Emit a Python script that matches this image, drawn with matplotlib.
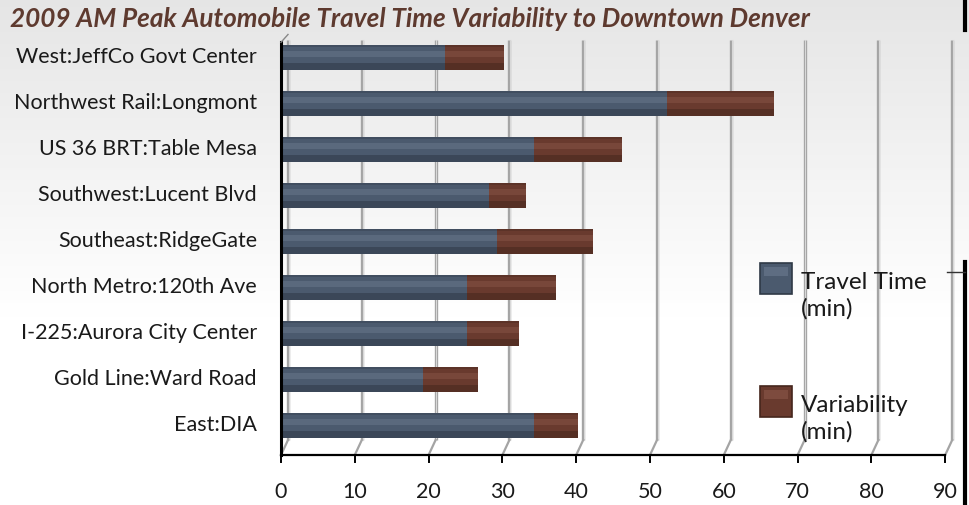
import matplotlib.pyplot as plt
import numpy as np
from matplotlib.patches import Rectangle
from matplotlib.lines import Line2D

# Corridor travel times (AM peak, minutes)
corridors = [
    "West:JeffCo Govt Center",
    "Northwest Rail:Longmont",
    "US 36 BRT:Table Mesa",
    "Southwest:Lucent Blvd",
    "Southeast:RidgeGate",
    "North Metro:120th Ave",
    "I-225:Aurora City Center",
    "Gold Line:Ward Road",
    "East:DIA",
]
travel_time = [22, 52, 34, 28, 29, 25, 25, 19, 34]
variability = [8, 14.5, 12, 5, 13, 12, 7, 7.5, 6]
x_ticks = [0, 10, 20, 30, 40, 50, 60, 70, 80, 90]

W, H = 969, 505
FONT = ["Lato", "DejaVu Sans"]

BLUE = ("#4b5a6e", "#5e6d82", "#2f3946")
BROWN = ("#693a2e", "#7d4b3e", "#46261d")


def px(x, y):
    """Pixel position -> figure fraction."""
    return x / W, 1 - y / H


def cylinder(ax, y, widths, left, colors, height):
    """Stacked barh with simple cylinder shading bands."""
    base, light, dark = colors
    ax.barh(y, widths, left=left, height=height, color=base, zorder=4)
    # dark lower rim
    ax.barh(y + height * 0.36, widths, left=left, height=height * 0.28,
            color=dark, alpha=0.55, zorder=5, linewidth=0)
    # highlight band
    ax.barh(y - height * 0.12, widths, left=left, height=height * 0.22,
            color=light, alpha=0.8, zorder=5, linewidth=0)
    # thin top edge
    ax.barh(y - height * 0.45, widths, left=left, height=height * 0.1,
            color=dark, alpha=0.35, zorder=5, linewidth=0)


fig = plt.figure(figsize=(W / 100, H / 100), dpi=100)

# soft grey wash fading to white
bg = fig.add_axes([0, 0, 1, 1], zorder=-10)
grad = np.clip(np.linspace(0.90, 1.06, 256), 0, 1)[:, None]
bg.imshow(np.dstack([grad, grad, grad]), aspect="auto", extent=[0, 1, 0, 1])
bg.set_axis_off()

# plot area: x 0..90 -> px 281..945, rows centred at 57 + 46*i
x0, x1 = 281, 281 + 90 * 7.38
y_top, y_bot = 40, 455
ax = fig.add_axes([x0 / W, 1 - y_bot / H, (x1 - x0) / W, (y_bot - y_top) / H])
ax.set_xlim(0, 90)
ax.set_ylim((y_bot - 57) / 46, (y_top - 57) / 46)
ax.patch.set_visible(False)
for sp in ax.spines.values():
    sp.set_visible(False)
ax.set_xticks([])
ax.set_yticks([])

# back-wall gridlines with slanted floor feet
depth = 7 / 7.38
y_wall_top = (y_top - 57) / 46
y_wall_bot = (440 - 57) / 46
y_front = (y_bot - 57) / 46
for v in x_ticks:
    ax.plot([v + depth, v + depth], [y_wall_top, y_wall_bot], color="#a4a4a4",
            lw=2.4, zorder=1, solid_capstyle="butt", clip_on=False)
    ax.plot([v + depth + 0.1, v + depth + 0.1], [y_wall_top, y_wall_bot], color="#d8d8d8",
            lw=0.8, zorder=1, clip_on=False)
    ax.plot([v + depth, v], [y_wall_bot, y_front], color="#a4a4a4", lw=1.6,
            zorder=1, clip_on=False)

ypos = np.arange(len(corridors))
bar_h = 25 / 46
cylinder(ax, ypos, travel_time, 0.25, BLUE, bar_h)
cylinder(ax, ypos, variability, np.array(travel_time) + 0.25, BROWN, bar_h)

# front axis lines and ticks
ax.plot([0, 0], [y_wall_top + 0.05, y_front], color="black", lw=2.2, zorder=6, clip_on=False)
ax.plot([0, depth], [y_wall_top + 0.05, y_wall_top - 0.12], color="#888888", lw=1, zorder=6,
        clip_on=False)
ax.plot([0, 90], [y_front, y_front], color="black", lw=1.6, zorder=6, clip_on=False)
for v in x_ticks:
    ax.plot([v, v], [y_front, y_front + 0.15], color="black", lw=1.4, clip_on=False)
    ax.text(v, (492 - 57) / 46, str(v), ha="center", va="center", fontsize=15.5,
            family=FONT, color="#1a1a1a", clip_on=False)

for i, name in enumerate(corridors):
    ax.text((257 - x0) / 7.38, i, name, ha="right", va="center", fontsize=15.5, family=FONT,
            color="#1a1a1a", clip_on=False)

fig.text(*px(10, 19), "2009 AM Peak Automobile Travel Time Variability to Downtown Denver",
         ha="left", va="center", fontsize=18.8, fontweight="bold", fontstyle="italic",
         family=FONT, color="#5e3a2f")

# legend
for (yy, colors, label) in [(263, BLUE, "Travel Time\n(min)"), (386, BROWN, "Variability\n(min)")]:
    lx, ly = px(760, yy + 31)
    fig.add_artist(Rectangle((lx, ly), 32 / W, 31 / H, transform=fig.transFigure,
                             facecolor=colors[0], edgecolor=colors[2], lw=1.2, zorder=8))
    fig.add_artist(Rectangle((lx + 4 / W, ly + 18 / H), 24 / W, 9 / H, transform=fig.transFigure,
                             facecolor=colors[1], edgecolor="none", zorder=9))
    fig.text(*px(801, yy + 33), label, ha="left", va="center", fontsize=17.5,
             family=FONT, color="#1a1a1a", linespacing=1.3, zorder=9)

# frame edge on the right
fig.add_artist(Line2D([965 / W, 965 / W], [1, 1 - 30 / H], color="black", lw=3,
                      transform=fig.transFigure))
fig.add_artist(Line2D([965 / W, 965 / W], [1 - 262 / H, 0], color="black", lw=3,
                      transform=fig.transFigure))
fig.add_artist(Line2D([947 / W, 965 / W], [1 - 272 / H, 1 - 272 / H], color="#333333", lw=1,
                      transform=fig.transFigure))

fig.savefig("out.png", dpi=100)
